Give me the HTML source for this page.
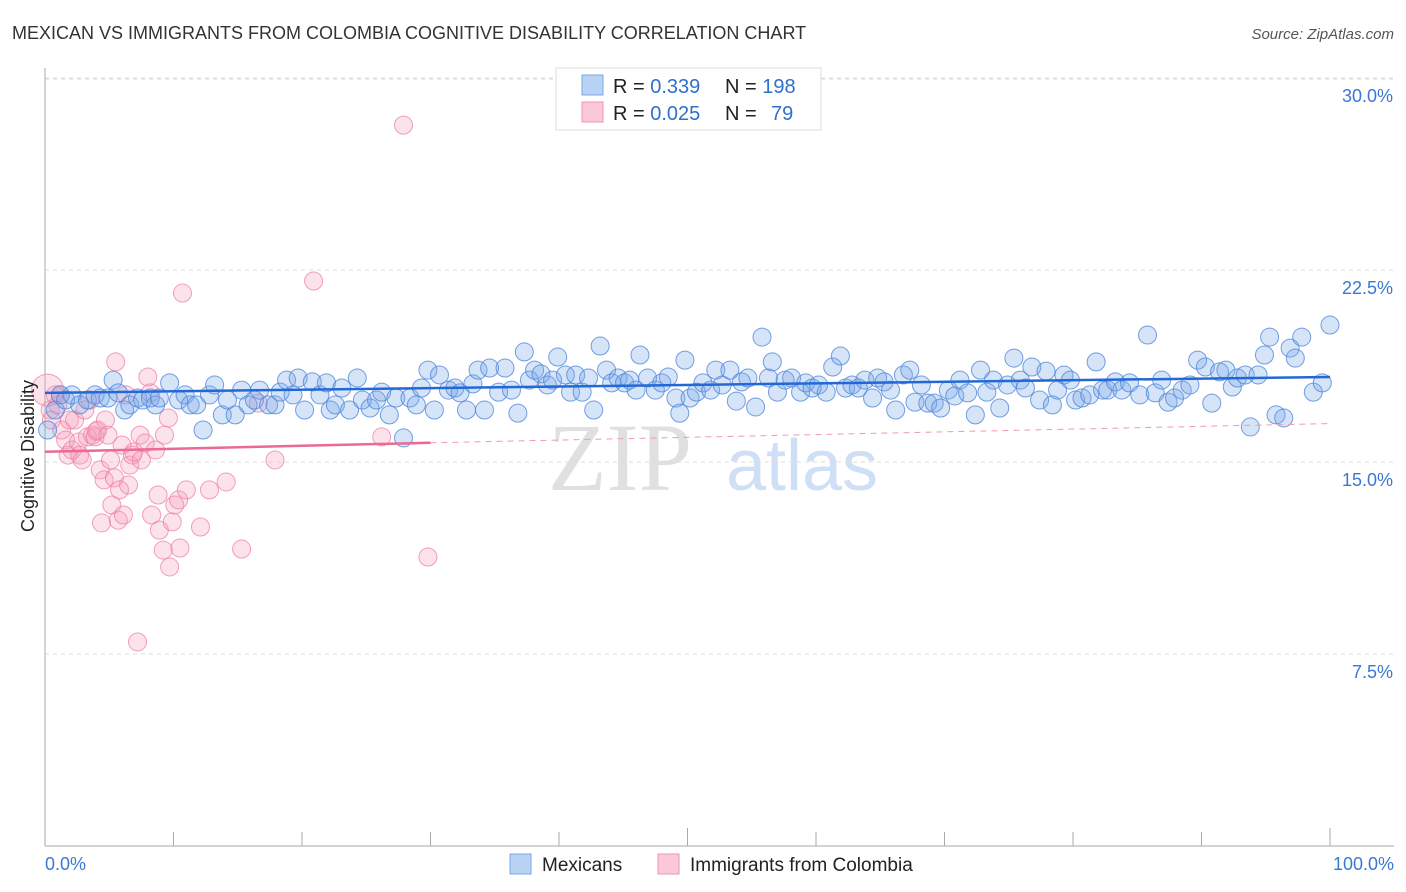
<!DOCTYPE html>
<html><head><meta charset="utf-8"><style>
body{margin:0;background:#fff;font-family:"Liberation Sans",sans-serif;}
svg{display:block}
</style></head><body>
<svg id="chart" width="1406" height="892">
<text x="12" y="39" font-size="18" fill="#333">MEXICAN VS IMMIGRANTS FROM COLOMBIA COGNITIVE DISABILITY CORRELATION CHART</text>
<text x="1394" y="39" font-size="15" fill="#555" font-style="italic" text-anchor="end">Source: ZipAtlas.com</text>
<g>
<text x="620" y="490" font-size="96" font-family="Liberation Serif" fill="#ccc" opacity="0.6" text-anchor="middle">ZIP</text>
<text x="802" y="490" font-size="72" fill="#a9c6ee" opacity="0.55" text-anchor="middle">atlas</text>
</g>
<g id="grid"></g>
<g id="axes"></g>
<g id="pinkPts"></g>
<g id="bluePts"></g>
<g id="trends"></g>
<text transform="translate(34,456) rotate(-90)" font-size="18" fill="#222" text-anchor="middle">Cognitive Disability</text>
<g>
<rect x="556" y="68" width="265" height="62" fill="#fff" stroke="#ddd"/>
<rect x="582" y="75" width="21" height="20" fill="#b9d3f5" stroke="#7aa6e6"/>
<rect x="582" y="102" width="21" height="20" fill="#fcc9d8" stroke="#f094b3"/>
<text x="613" y="93" font-size="20" fill="#222">R = <tspan fill="#2f6fd0">0.339</tspan><tspan x="725">N = </tspan><tspan fill="#2f6fd0">198</tspan></text>
<text x="613" y="120" font-size="20" fill="#222">R = <tspan fill="#2f6fd0">0.025</tspan><tspan x="725">N = </tspan><tspan fill="#2f6fd0" x="771">79</tspan></text>
</g>
<g>
<rect x="510" y="854" width="21" height="20" fill="#b9d3f5" stroke="#7aa6e6"/>
<text x="542" y="871" font-size="19" fill="#222">Mexicans</text>
<rect x="658" y="854" width="21" height="20" fill="#fcc9d8" stroke="#f094b3"/>
<text x="690" y="871" font-size="19" fill="#222">Immigrants from Colombia</text>
</g>
</svg>
<script>
const yTicks=[7.5,15,22.5,30];
const yTickLabels=["7.5%","15.0%","22.5%","30.0%"];
const xTicks=[0,10,20,30,40,50,60,70,80,90,100];
const xEndLabels=["0.0%","100.0%"];
const blueX=[0.2,0.8,1.2,1.6,2.1,2.7,3.3,3.9,4.3,4.9,5.3,5.7,6.2,6.6,7.2,7.6,8.2,8.6,8.9,9.7,10.4,10.9,11.3,11.8,12.3,12.8,13.2,13.8,14.2,14.8,15.3,15.8,16.3,16.7,17.4,17.9,18.3,18.8,19.3,19.7,20.2,20.8,21.4,21.9,22.2,22.6,23.1,23.7,24.3,24.7,25.3,25.8,26.2,26.8,27.3,27.9,28.4,28.9,29.3,29.8,30.3,30.7,31.4,31.9,32.3,32.8,33.3,33.7,34.2,34.6,35.3,35.8,36.3,36.8,37.3,37.7,38.1,38.6,39.1,39.5,39.9,40.5,40.9,41.3,41.8,42.3,42.7,43.2,43.7,44.1,44.6,45.1,45.5,46.0,46.3,46.9,47.5,48.0,48.5,49.1,49.4,49.8,50.2,50.7,51.2,51.8,52.2,52.7,53.3,53.8,54.2,54.7,55.3,55.8,56.3,56.6,57.0,57.6,58.1,58.8,59.2,59.7,60.2,60.8,61.3,61.9,62.3,62.8,63.3,63.8,64.4,64.8,65.3,65.8,66.2,66.8,67.3,67.7,68.2,68.7,69.2,69.7,70.3,70.8,71.2,71.8,72.4,72.8,73.3,73.8,74.3,74.9,75.4,75.9,76.3,76.8,77.4,77.9,78.4,78.8,79.3,79.8,80.2,80.7,81.3,81.8,82.3,82.7,83.3,83.8,84.4,85.2,85.8,86.4,86.9,87.4,87.9,88.5,89.1,89.7,90.3,90.8,91.4,91.9,92.4,92.8,93.4,93.8,94.4,94.9,95.3,95.8,96.4,96.9,97.3,97.8,98.7,99.4,100];
const blueY=[16.25,17.03,17.62,17.42,17.62,17.23,17.42,17.62,17.5,17.5,18.2,17.7,17.03,17.23,17.5,17.42,17.5,17.23,17.5,18.09,17.42,17.62,17.23,17.23,16.25,17.62,18.01,16.84,17.42,16.84,17.81,17.23,17.42,17.81,17.23,17.23,17.73,18.2,17.62,18.28,17.03,18.13,17.62,18.09,17.03,17.23,17.89,17.03,18.28,17.42,17.11,17.42,17.73,16.84,17.5,15.94,17.5,17.23,17.89,18.59,17.03,18.4,17.81,17.89,17.7,17.03,18.05,18.59,17.03,18.67,17.73,18.67,17.81,16.91,19.3,18.2,18.59,18.44,18.01,18.2,19.1,18.4,17.73,18.4,17.73,18.28,17.03,19.53,18.59,18.09,18.28,18.09,18.2,17.81,19.18,18.28,17.81,18.09,18.32,17.5,16.91,18.98,17.5,17.73,18.09,17.81,18.59,18.01,18.59,17.38,18.13,18.28,17.15,19.88,18.28,18.91,17.73,18.2,18.28,17.73,18.09,17.89,18.01,17.73,18.71,19.14,17.89,18.01,17.89,18.2,17.5,18.28,18.13,17.81,17.03,18.4,18.59,17.34,18.01,17.3,17.3,17.11,17.81,17.58,18.2,17.7,16.84,18.59,17.73,18.2,17.11,18.01,19.06,18.2,17.89,18.71,17.42,18.55,17.23,17.81,18.4,18.2,17.42,17.5,17.62,18.91,17.81,17.81,18.13,17.81,18.09,17.62,19.96,17.7,18.2,17.34,17.5,17.81,18.01,18.98,18.71,17.3,18.52,18.59,17.93,18.28,18.4,16.37,18.4,19.18,19.88,16.84,16.72,19.45,19.06,19.88,17.73,18.09,20.35];
const pinkX=[0.2,0.4,0.5,0.8,1.0,1.2,1.3,1.6,1.8,1.9,2.1,2.3,2.6,2.7,2.9,3.1,3.3,3.5,3.7,3.9,4.0,4.1,4.3,4.4,4.6,4.7,4.9,5.1,5.2,5.4,5.5,5.7,5.8,6.0,6.1,6.3,6.5,6.6,6.8,6.9,7.2,7.4,7.5,7.8,8.0,8.2,8.3,8.6,8.8,8.9,9.2,9.3,9.6,9.7,9.9,10.1,10.4,10.5,10.7,11.0,12.1,12.8,14.1,15.3,16.6,17.9,20.9,26.2,27.9,29.8];
const pinkY=[17.81,17.03,16.64,17.62,17.23,17.62,16.25,15.86,15.27,16.64,15.47,16.64,15.78,15.27,15.08,17.03,15.98,17.42,16.05,15.98,16.2,16.25,14.69,12.62,14.3,16.64,16.05,15.08,13.32,14.38,18.91,12.73,13.91,15.66,12.93,17.62,14.1,14.88,15.27,15.39,7.97,16.05,15.08,15.74,18.32,17.7,12.93,15.47,13.71,12.34,11.56,16.05,16.72,10.9,12.66,13.32,13.52,11.64,21.6,13.91,12.46,13.91,14.22,11.6,17.3,15.08,22.07,15.98,28.16,11.29];
const blueTrend=[17.7,18.32];
const pinkTrend=[15.4,15.75,16.5];
const pinkSolidEnd=30;

const X0=45,X1=1330,YB=846,PX=192/7.5;
const sx=v=>X0+(X1-X0)*v/100;
const sy=v=>YB-v*PX;
const NS="http://www.w3.org/2000/svg";
function mk(tag,attrs,parent){const e=document.createElementNS(NS,tag);for(const k in attrs)e.setAttribute(k,attrs[k]);parent.appendChild(e);return e;}
const grid=document.getElementById('grid'),axes=document.getElementById('axes');
yTicks.forEach((t,i)=>{
 const l=mk('line',{x1:X0,x2:1394,y1:sy(t),y2:sy(t),stroke:'#ddd','stroke-dasharray':'4,4'},grid);
 
 
 const tx=mk('text',{x:1393,y:sy(t)+24,'font-size':18,fill:'#3a78d4','text-anchor':'end'},axes);
 tx.textContent=yTickLabels[i];
 
 
});
const topGrid=mk('line',{x1:X0,x2:1394,y1:79,y2:79,stroke:'#ddd','stroke-dasharray':'4,4'},grid);


const ya=mk('line',{x1:X0,x2:X0,y1:68,y2:YB,stroke:'#aaa'},axes);


const xa=mk('line',{x1:X0,x2:1394,y1:YB,y2:YB,stroke:'#aaa'},axes);


xTicks.forEach(t=>{
 const l=mk('line',{x1:sx(t),x2:sx(t),y1:YB,y2:YB-(t%50===0?18:14),stroke:'#aaa'},axes);
 
 
});
const xl0=mk('text',{x:X0,y:870,'font-size':18,fill:'#3a78d4'},axes);
xl0.textContent=xEndLabels[0];


const xl1=mk('text',{x:1394,y:870,'font-size':18,fill:'#3a78d4','text-anchor':'end'},axes);
xl1.textContent=xEndLabels[1];



const pg=document.getElementById('pinkPts');
pinkX.forEach((x,i)=>{
 const c=mk('circle',{cx:sx(x),cy:sy(pinkY[i]),r:i===0?16:9,fill:'rgba(244,160,188,0.3)',stroke:'rgba(238,128,165,0.75)','stroke-width':1},pg);
 
 
});
const bg=document.getElementById('bluePts');
blueX.forEach((x,i)=>{
 if(blueY[i]===undefined)return;
 const c=mk('circle',{cx:sx(x),cy:sy(blueY[i]),r:9,fill:'rgba(120,165,232,0.3)',stroke:'rgba(80,135,220,0.8)','stroke-width':1},bg);
 
 
});
const tg=document.getElementById('trends');
const bt=mk('line',{x1:sx(0),y1:sy(blueTrend[0]),x2:sx(100),y2:sy(blueTrend[1]),stroke:'#2369d6','stroke-width':2.5},tg);


const ps=mk('line',{x1:sx(0),y1:sy(pinkTrend[0]),x2:sx(pinkSolidEnd),y2:sy(pinkTrend[1]),stroke:'#ea6a93','stroke-width':2.5},tg);


const pd=mk('line',{x1:sx(pinkSolidEnd),y1:sy(pinkTrend[1]),x2:sx(100),y2:sy(pinkTrend[2]),stroke:'#ef9ab5','stroke-width':1,'stroke-dasharray':'6,5'},tg);


</script>
</body></html>
